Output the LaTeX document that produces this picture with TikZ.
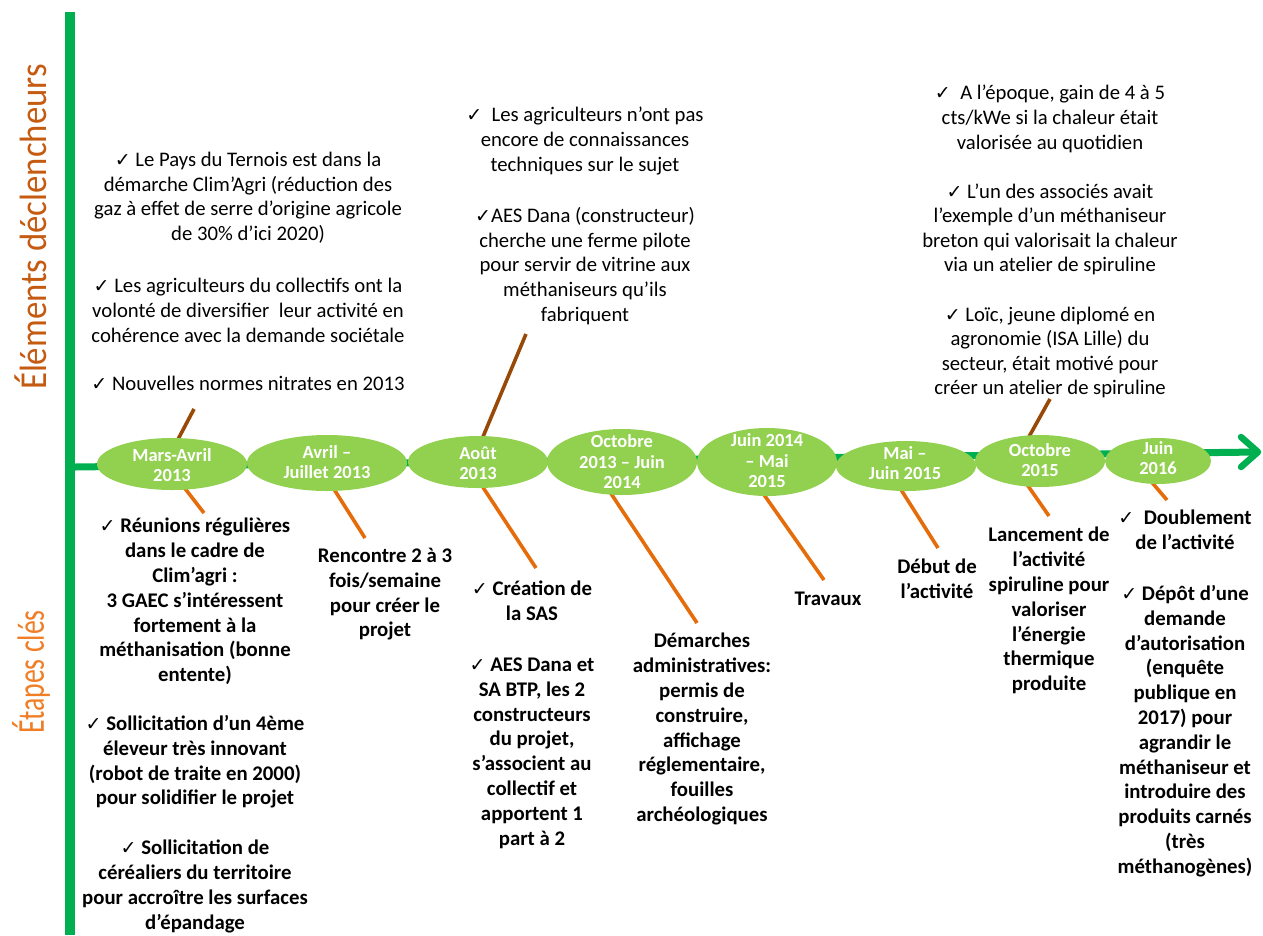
\documentclass[tikz,border=0pt]{standalone}
\usepackage{fontspec}
\setmainfont{Carlito}
\newfontfamily\djv{DejaVu Sans}
\usetikzlibrary{shapes.geometric,backgrounds}
\definecolor{tlgreen}{HTML}{00B050}
\definecolor{elgreen}{HTML}{92D050}
\definecolor{brn}{HTML}{984807}
\definecolor{org}{HTML}{E46C0A}
\definecolor{lblbrown}{HTML}{C55A11}
\definecolor{lblorange}{HTML}{F07E26}
\newcommand\ck{{\djv\fontsize{19}{19}\selectfont ✓}}
\begin{document}
\begin{tikzpicture}[x=1pt,y=-1pt,
  period/.style={ellipse, fill=elgreen, inner sep=0pt},
  plabel/.style={text=white, align=center, inner sep=0pt, font=\bfseries\fontsize{18.5}{20.5}\selectfont},
  toptext/.style={anchor=north, align=center, inner sep=0pt, font=\fontsize{20.7}{24.6}\selectfont},
  bottext/.style={anchor=north, align=center, inner sep=0pt, font=\bfseries\fontsize{20.8}{24.8}\selectfont},
  upline/.style={draw=brn, line width=3.6pt},
  downline/.style={draw=org, line width=3.6pt},
  sidelabel/.style={rotate=90, inner sep=0pt, font=\fontsize{38}{42}\selectfont},
]
\useasboundingbox (0,0) rectangle (1263,935);

% vertical bar
\coordinate (bt) at (70,12);
\coordinate (bb) at (70,935);
\draw[tlgreen, line width=9.5pt] (bt) -- (bb);

% side labels
\node[sidelabel, text=lblbrown] (lab1) at (31,227) {\scalebox{0.915}[1]{Éléments déclencheurs}};
\node[sidelabel, text=lblorange] (lab2) at (31,672) {\scalebox{0.73}[1]{Étapes clés}};

% periods
\node[period, minimum width=150pt, minimum height=52pt] (e1) at (172,464) {};
\node[period, minimum width=160pt, minimum height=56pt] (e2) at (327,463) {};
\node[period, minimum width=140pt, minimum height=52pt] (e3) at (478,462) {};
\node[period, minimum width=150pt, minimum height=66pt] (e4) at (622,462) {};
\node[period, minimum width=140pt, minimum height=68pt] (e5) at (767,462) {};
\node[period, minimum width=140pt, minimum height=50pt] (e6) at (906,466) {};
\node[period, minimum width=130pt, minimum height=52pt] (e7) at (1040,461) {};
\node[period, minimum width=106pt, minimum height=46pt] (e8) at (1158,461) {};

\node[plabel] (p1) at (172,465) {Mars-Avril\\2013};
\node[plabel] (p2) at (327,462) {Avril –\\Juillet 2013};
\node[plabel] (p3) at (478,463) {Août\\2013};
\node[plabel] (p4) at (622,462) {Octobre\\2013 – Juin\\2014};
\node[plabel] (p5) at (767,461) {Juin 2014\\– Mai\\2015};
\node[plabel] (p6) at (905,463) {Mai –\\Juin 2015};
\node[plabel] (p7) at (1040,460) {Octobre\\2015};
\node[plabel] (p8) at (1158,458) {Juin\\2016};

% connector coordinates
\coordinate (ts) at (75,467);
\coordinate (te) at (1258,452);
\coordinate (ah1) at (1241,437);
\coordinate (ah2) at (1241,467);
\coordinate (u1a) at (165,464); \coordinate (u1b) at (194,409);
\coordinate (u2a) at (472,463); \coordinate (u2b) at (526,334);
\coordinate (u3a) at (1016,460); \coordinate (u3b) at (1050,399);
\coordinate (d1a) at (166,464); \coordinate (d1b) at (204,513);
\coordinate (d2a) at (318,464); \coordinate (d2b) at (365,538);
\coordinate (d3a) at (467,463); \coordinate (d3b) at (536,568);
\coordinate (d4a) at (590,462); \coordinate (d4b) at (697,623);
\coordinate (d5a) at (741,462); \coordinate (d5b) at (824,580);
\coordinate (d6a) at (886,466); \coordinate (d6b) at (938,548);
\coordinate (d7a) at (1010,460); \coordinate (d7b) at (1049,516);
\coordinate (d8a) at (1131,458); \coordinate (d8b) at (1167,500);

\begin{pgfonlayer}{background}
\draw[tlgreen, line width=7pt] (ts) -- (te);
\draw[upline] (u1a) -- (u1b);
\draw[upline] (u2a) -- (u2b);
\draw[upline] (u3a) -- (u3b);
\draw[downline] (d1a) -- (d1b);
\draw[downline] (d2a) -- (d2b);
\draw[downline] (d3a) -- (d3b);
\draw[downline] (d4a) -- (d4b);
\draw[downline] (d5a) -- (d5b);
\draw[downline] (d6a) -- (d6b);
\draw[downline] (d7a) -- (d7b);
\draw[downline] (d8a) -- (d8b);
\end{pgfonlayer}
\draw[tlgreen, line width=6.5pt, line cap=round, line join=round] (ah1) -- (te) -- (ah2);

% top texts
\node[toptext] (t1) at (248,152) {\ck\ Le Pays du Ternois est dans la\\démarche Clim’Agri (réduction des\\gaz à effet de serre d’origine agricole\\de 30\% d’ici 2020)\\[28pt]\ck\ Les agriculteurs du collectifs ont la\\volonté de diversifier\ \ leur activité en\\cohérence avec la demande sociétale\\[24pt]\ck\ Nouvelles normes nitrates en 2013};
\node[toptext] (t2) at (585,107) {\ck\ \ Les agriculteurs n’ont pas\\encore de connaissances\\techniques sur le sujet\\[27pt]\ck AES Dana (constructeur)\\cherche une ferme pilote\\pour servir de vitrine aux\\méthaniseurs qu’ils\\fabriquent};
\node[toptext] (t3) at (1050,85) {\ck\ \ A l’époque, gain de 4 à 5\\cts/kWe si la chaleur était\\valorisée au quotidien\\[24.5pt]\ck\ L’un des associés avait\\l’exemple d’un méthaniseur\\breton qui valorisait la chaleur\\via un atelier de spiruline\\[24.5pt]\ck\ Loïc, jeune diplomé en\\agronomie (ISA Lille) du\\secteur, était motivé pour\\créer un atelier de spiruline};

% bottom texts
\node[bottext] (b1) at (195,518) {\ck\ Réunions régulières\\dans le cadre de\\Clim’agri :\\3 GAEC s’intéressent\\fortement à la\\méthanisation (bonne\\entente)\\[24pt]\ck\ Sollicitation d’un 4ème\\éleveur très innovant\\(robot de traite en 2000)\\pour solidifier le projet\\[25pt]\ck\ Sollicitation de\\céréaliers du territoire\\pour accroître les surfaces\\d'épandage};
\node[bottext] (b2) at (385,548) {Rencontre 2 à 3\\fois/semaine\\pour créer le\\projet};
\node[bottext] (b3) at (532,581) {\ck\ Création de\\la SAS\\[26pt]\ck\ AES Dana et\\SA BTP, les 2\\constructeurs\\du projet,\\s’associent au\\collectif et\\apportent 1\\part à 2};
\node[bottext] (b4) at (702,633) {Démarches\\administratives:\\permis de\\construire,\\affichage\\réglementaire,\\fouilles\\archéologiques};
\node[bottext] (b5) at (828,592) {Travaux};
\node[bottext] (b6) at (937,559) {Début de\\l’activité};
\node[bottext] (b7) at (1049,527) {Lancement de\\l’activité\\spiruline pour\\valoriser\\l’énergie\\thermique\\produite};
\node[bottext] (b8) at (1185,510) {\ck\ \ Doublement\\de l’activité\\[26pt]\ck\ Dépôt d’une\\demande\\d’autorisation\\(enquête\\publique en\\2017) pour\\agrandir le\\méthaniseur et\\introduire des\\produits carnés\\(très\\méthanogènes)};
\end{tikzpicture}
\end{document}
